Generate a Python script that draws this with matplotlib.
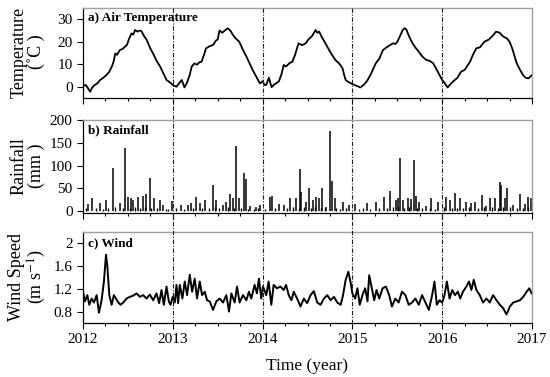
import matplotlib
matplotlib.use("Agg")
import matplotlib.pyplot as plt
from matplotlib.ticker import MultipleLocator
from matplotlib.lines import Line2D
from matplotlib.transforms import blended_transform_factory

plt.rcParams['font.family'] = ['Liberation Serif', 'DejaVu Serif']
plt.rcParams['mathtext.fontset'] = 'stix'

# --- data (decimal years) ---
temp_t = [2012.00, 2012.03, 2012.05, 2012.08, 2012.10, 2012.13, 2012.16, 2012.19, 2012.22, 2012.26,
          2012.29, 2012.32, 2012.34, 2012.36, 2012.38, 2012.41, 2012.44, 2012.46, 2012.49, 2012.51,
          2012.54, 2012.56, 2012.58, 2012.61, 2012.63, 2012.65, 2012.68, 2012.71, 2012.75, 2012.78,
          2012.82, 2012.86, 2012.90, 2012.93, 2012.96, 2013.00, 2013.04, 2013.07, 2013.10, 2013.13,
          2013.16, 2013.19, 2013.21, 2013.24, 2013.27, 2013.30, 2013.32, 2013.35, 2013.37, 2013.41,
          2013.45, 2013.48, 2013.50, 2013.52, 2013.55, 2013.58, 2013.61, 2013.64, 2013.67, 2013.70,
          2013.74, 2013.78, 2013.82, 2013.86, 2013.89, 2013.93, 2013.97, 2014.00, 2014.02, 2014.04,
          2014.07, 2014.10, 2014.13, 2014.18, 2014.21, 2014.235, 2014.26, 2014.30, 2014.33, 2014.36,
          2014.40, 2014.44, 2014.48, 2014.51, 2014.55, 2014.59, 2014.61, 2014.63, 2014.66, 2014.69,
          2014.72, 2014.76, 2014.81, 2014.85, 2014.89, 2014.91, 2014.925, 2014.96, 2015.00, 2015.04,
          2015.09, 2015.13, 2015.17, 2015.21, 2015.26, 2015.30, 2015.34, 2015.38, 2015.42, 2015.45,
          2015.48, 2015.50, 2015.53, 2015.56, 2015.58, 2015.60, 2015.63, 2015.67, 2015.70, 2015.74,
          2015.78, 2015.82, 2015.86, 2015.90, 2015.94, 2015.97, 2016.00, 2016.03, 2016.06, 2016.10,
          2016.14, 2016.17, 2016.21, 2016.25, 2016.31, 2016.34, 2016.38, 2016.42, 2016.47, 2016.52,
          2016.57, 2016.60, 2016.64, 2016.68, 2016.72, 2016.75, 2016.78, 2016.83, 2016.86, 2016.90,
          2016.93, 2016.96, 2017.00]
temp_v = [0.3, 0.8, -0.3, -2.2, -0.5, 0.8, 1.5, 3.0, 3.8, 5.2,
          6.5, 8.9, 11.0, 14.8, 14.2, 16.3, 16.8, 17.5, 18.6, 21.0,
          23.7, 23.2, 25.2, 24.5, 25.0, 24.8, 22.5, 20.8, 17.0, 14.8,
          11.5, 8.9, 5.5, 3.0, 2.2, 0.8, 0.0, 1.5, 3.0, -0.3,
          2.0, 5.5, 8.9, 10.4, 9.8, 11.0, 11.1, 14.5, 17.1, 18.0,
          18.6, 20.5, 21.0, 25.0, 24.0, 25.0, 26.0, 25.0, 23.0, 21.5,
          20.0, 16.5, 13.4, 10.0, 7.4, 4.5, 1.5, 2.5, 0.8, 0.8,
          4.0, -0.2, 1.0, 2.3, 5.5, 9.7, 9.0, 10.5, 11.1, 14.0,
          19.3, 18.5, 19.3, 21.0, 22.5, 25.2, 24.0, 24.5, 22.0, 20.0,
          17.8, 15.0, 11.9, 10.5, 8.2, 5.0, 3.0, 2.0, 1.2, 0.5,
          -0.3, 1.0, 3.0, 6.0, 10.4, 12.5, 16.3, 17.5, 18.5, 19.3,
          19.0, 20.0, 22.5, 25.2, 26.0, 25.5, 22.5, 19.3, 17.5, 15.5,
          13.4, 12.0, 11.5, 10.4, 7.5, 5.2, 3.0, 1.5, -0.3, 1.5,
          3.0, 4.0, 6.7, 7.5, 11.1, 14.0, 17.1, 17.5, 20.0, 21.0,
          23.0, 24.5, 24.0, 22.3, 21.5, 20.0, 17.0, 10.4, 8.0, 5.2,
          4.0, 3.7, 5.2]

rain_t = [2012.059, 2012.100, 2012.189, 2012.256, 2012.330, 2012.411, 2012.467, 2012.504, 2012.530,
          2012.559, 2012.615, 2012.663, 2012.707, 2012.744, 2012.793, 2012.863, 2012.893, 2012.996,
          2013.096, 2013.170, 2013.207, 2013.263, 2013.300, 2013.356, 2013.448, 2013.485, 2013.559,
          2013.596, 2013.641, 2013.670, 2013.707, 2013.737, 2013.789, 2013.819, 2013.856, 2013.930,
          2013.967, 2014.078, 2014.104, 2014.179, 2014.235, 2014.310, 2014.373, 2014.422, 2014.433,
          2014.478, 2014.515, 2014.560, 2014.597, 2014.627, 2014.664, 2014.709, 2014.750, 2014.769,
          2014.802, 2014.896, 2014.963, 2015.030, 2015.168, 2015.261, 2015.354, 2015.418, 2015.485,
          2015.504, 2015.534, 2015.560, 2015.616, 2015.653, 2015.683, 2015.709, 2015.746, 2015.821,
          2015.877, 2015.951, 2016.045, 2016.082, 2016.138, 2016.194, 2016.269, 2016.325, 2016.362,
          2016.448, 2016.485, 2016.537, 2016.586, 2016.642, 2016.660, 2016.698, 2016.724, 2016.791,
          2016.866, 2016.922, 2016.959, 2016.985]
rain_v = [15, 29, 18, 24, 94, 18, 138, 31, 30,
          24, 31, 34, 37, 72, 30, 24, 13, 23,
          13, 13, 17, 31, 18, 24, 57, 24, 13,
          20, 37, 28, 143, 28, 84, 70, 11, 10,
          13, 31, 33, 15, 13, 30, 30, 92, 42,
          20, 50, 24, 31, 28, 50, 10, 176, 67,
          30, 20, 13, 15, 17, 20, 31, 45, 24,
          28, 116, 24, 28, 26, 112, 33, 20, 11,
          28, 20, 31, 24, 39, 30, 20, 18, 20,
          35, 11, 30, 28, 64, 57, 28, 51, 13,
          37, 15, 31, 30]
# small daily events forming the dense band near zero
rain_small_t = [2012.03, 2012.14, 2012.22, 2012.28, 2012.36, 2012.44, 2012.52, 2012.58, 2012.64, 2012.69,
                2012.76, 2012.82, 2012.92, 2012.95, 2013.04, 2013.13, 2013.23, 2013.33, 2013.40, 2013.47,
                2013.52, 2013.62, 2013.68, 2013.76, 2013.84, 2013.90, 2013.95, 2014.03, 2014.14, 2014.27,
                2014.34, 2014.40, 2014.46, 2014.54, 2014.58, 2014.65, 2014.70, 2014.82, 2014.86, 2014.93,
                2015.07, 2015.12, 2015.20, 2015.30, 2015.39, 2015.45, 2015.51, 2015.58, 2015.63, 2015.72,
                2015.78, 2015.86, 2015.92, 2016.02, 2016.11, 2016.17, 2016.23, 2016.30, 2016.40, 2016.47,
                2016.56, 2016.62, 2016.68, 2016.75, 2016.83, 2016.90, 2016.95]
rain_small_v = [6, 8, 5, 7, 9, 6, 8, 10, 7, 9,
                6, 8, 5, 4, 6, 5, 7, 6, 8, 9,
                7, 10, 8, 6, 5, 4, 6, 5, 7, 8,
                9, 6, 10, 8, 9, 7, 6, 8, 5, 6,
                4, 6, 5, 7, 8, 9, 10, 8, 9, 7,
                6, 8, 5, 9, 6, 8, 7, 9, 8, 10,
                9, 8, 10, 9, 7, 8, 9]

wind_t = [2012.004, 2012.022, 2012.048, 2012.070, 2012.096, 2012.122, 2012.152, 2012.178, 2012.207, 2012.233,
          2012.256, 2012.270, 2012.293, 2012.319, 2012.344, 2012.367, 2012.393, 2012.419, 2012.448, 2012.485,
          2012.522, 2012.559, 2012.596, 2012.633, 2012.670, 2012.707, 2012.744, 2012.781, 2012.819, 2012.848,
          2012.874, 2012.900, 2012.930, 2012.956, 2012.974, 2013.000, 2013.022, 2013.041, 2013.059, 2013.078,
          2013.107, 2013.133, 2013.159, 2013.189, 2013.215, 2013.244, 2013.270, 2013.300, 2013.326, 2013.356,
          2013.381, 2013.411, 2013.448, 2013.485, 2013.522, 2013.559, 2013.596, 2013.626, 2013.652, 2013.689,
          2013.715, 2013.744, 2013.781, 2013.819, 2013.848, 2013.874, 2013.911, 2013.937, 2013.959, 2013.985,
          2014.004, 2014.041, 2014.067, 2014.097, 2014.123, 2014.160, 2014.198, 2014.235, 2014.261, 2014.291,
          2014.321, 2014.347, 2014.384, 2014.422, 2014.459, 2014.496, 2014.534, 2014.571, 2014.608, 2014.646,
          2014.683, 2014.720, 2014.757, 2014.795, 2014.832, 2014.869, 2014.896, 2014.925, 2014.955, 2014.978,
          2015.000, 2015.030, 2015.056, 2015.082, 2015.112, 2015.142, 2015.168, 2015.187, 2015.213, 2015.243,
          2015.269, 2015.299, 2015.336, 2015.373, 2015.410, 2015.440, 2015.478, 2015.515, 2015.552, 2015.590,
          2015.627, 2015.664, 2015.701, 2015.739, 2015.776, 2015.813, 2015.851, 2015.888, 2015.914, 2015.940,
          2015.970, 2016.000, 2016.026, 2016.052, 2016.082, 2016.112, 2016.142, 2016.175, 2016.201, 2016.231,
          2016.269, 2016.299, 2016.325, 2016.351, 2016.381, 2016.418, 2016.455, 2016.493, 2016.530, 2016.567,
          2016.604, 2016.642, 2016.679, 2016.716, 2016.754, 2016.791, 2016.828, 2016.866, 2016.903, 2016.940,
          2016.970, 2016.996]
wind_v = [1.12, 0.98, 1.09, 0.92, 1.03, 0.96, 1.09, 0.78, 1.00, 1.33,
          1.80, 1.62, 1.09, 0.92, 1.09, 1.03, 0.96, 0.92, 0.96, 1.03,
          1.06, 1.08, 1.12, 1.06, 1.09, 1.03, 1.10, 1.00, 1.12, 0.95,
          1.18, 0.92, 1.24, 0.98, 0.92, 1.06, 0.96, 1.27, 0.95, 1.27,
          1.03, 1.33, 1.09, 1.45, 1.15, 1.38, 1.03, 1.33, 1.09, 1.15,
          1.00, 0.98, 0.83, 0.98, 1.03, 0.96, 1.09, 0.80, 1.12, 0.96,
          1.24, 0.96, 1.09, 1.00, 1.15, 1.03, 1.27, 1.12, 1.38, 1.03,
          1.24, 1.09, 1.33, 0.92, 1.27, 1.21, 1.24, 1.18, 1.27, 1.09,
          1.00, 1.15, 1.03, 0.89, 1.03, 0.95, 1.09, 1.16, 0.96, 0.92,
          1.03, 1.09, 1.00, 1.06, 0.96, 0.92, 1.09, 1.36, 1.50, 1.33,
          1.12, 1.03, 1.21, 0.92, 1.09, 1.21, 0.98, 1.44, 1.24, 1.00,
          1.18, 1.03, 1.21, 1.24, 1.09, 0.89, 1.03, 0.96, 1.15, 1.09,
          0.92, 0.96, 1.03, 0.92, 1.09, 0.96, 0.83, 1.09, 1.33, 0.92,
          1.00, 0.96, 1.09, 1.33, 1.03, 1.18, 1.09, 1.15, 1.03, 1.15,
          1.24, 1.33, 1.18, 1.36, 1.18, 1.09, 0.96, 1.03, 0.96, 1.09,
          1.00, 0.92, 0.86, 0.75, 0.89, 0.96, 0.98, 1.00, 1.06, 1.15,
          1.21, 1.12]

years = [2012, 2013, 2014, 2015, 2016, 2017]
dividers = [2013, 2014, 2015, 2016]

# --- figure ---
fig = plt.figure(figsize=(5.5, 3.77), dpi=100)
L, W = 83/550, 449/550
ax1 = fig.add_axes([L, 1 - 98/377, W, 90/377])
ax2 = fig.add_axes([L, 1 - 213/377, W, 93/377])
ax3 = fig.add_axes([L, 1 - 323/377, W, 91/377])

ax1.plot(temp_t, temp_v, color='black', lw=1.3)
ax2.vlines(rain_small_t, 0, rain_small_v, color='black', lw=1.0)
ax2.vlines(rain_t, 0, rain_v, color='black', lw=1.1)
ax3.plot(wind_t, wind_v, color='black', lw=1.4)

ax1.set_ylim(-5, 35); ax1.set_yticks([0, 10, 20, 30])
ax2.set_ylim(-4, 200); ax2.set_yticks([0, 50, 100, 150, 200])
ax3.set_ylim(0.6, 2.2); ax3.set_yticks([0.8, 1.2, 1.6, 2.0])
ax3.set_yticklabels(['0.8', '1.2', '1.6', '2'])

for ax in (ax1, ax2, ax3):
    ax.set_xlim(2012, 2017)
    ax.set_xticks(years)
    ax.xaxis.set_minor_locator(MultipleLocator(0.25))
    ax.tick_params(axis='both', which='major', labelsize=11, length=4, width=0.8, direction='out')
    ax.tick_params(axis='x', which='minor', length=2.5, width=0.8, direction='out')
    for s in ('top', 'right'):
        ax.spines[s].set_color('#a0a0a0')
        ax.spines[s].set_linewidth(1.0)
    for s in ('left', 'bottom'):
        ax.spines[s].set_linewidth(0.9)
ax1.tick_params(axis='x', labelbottom=False)
ax2.tick_params(axis='x', labelbottom=False)

ax1.text(0.012, 0.95, 'a) Air Temperature', transform=ax1.transAxes, fontsize=9.5,
         fontweight='bold', va='top', ha='left')
ax2.text(0.012, 0.955, 'b) Rainfall', transform=ax2.transAxes, fontsize=9.5,
         fontweight='bold', va='top', ha='left')
ax3.text(0.012, 0.945, 'c) Wind', transform=ax3.transAxes, fontsize=9.5,
         fontweight='bold', va='top', ha='left')

fig.text(28/550, 1 - 52/377, 'Temperature\n(˚C )', rotation=90, ha='center', va='center',
         fontsize=13, multialignment='center', linespacing=1.0)
fig.text(28/550, 1 - 166/377, 'Rainfall\n(mm )', rotation=90, ha='center', va='center',
         fontsize=13, multialignment='center', linespacing=1.0)
fig.text(28/550, 1 - 277/377, 'Wind Speed\n(m s$^{-1}$)', rotation=90, ha='center', va='center',
         fontsize=13, multialignment='center', linespacing=1.0)
ax3.set_xlabel('Time (year)', fontsize=12.5, labelpad=8)

# year dividers through all panels
tr = blended_transform_factory(ax1.transData, fig.transFigure)
for d in dividers:
    fig.add_artist(Line2D([d, d], [1 - 8/377, 1 - 323/377], transform=tr, color='#222222',
                          lw=0.8, ls=(0, (4, 1.5, 1, 1.5))))

fig.savefig('out.png', dpi=100)
